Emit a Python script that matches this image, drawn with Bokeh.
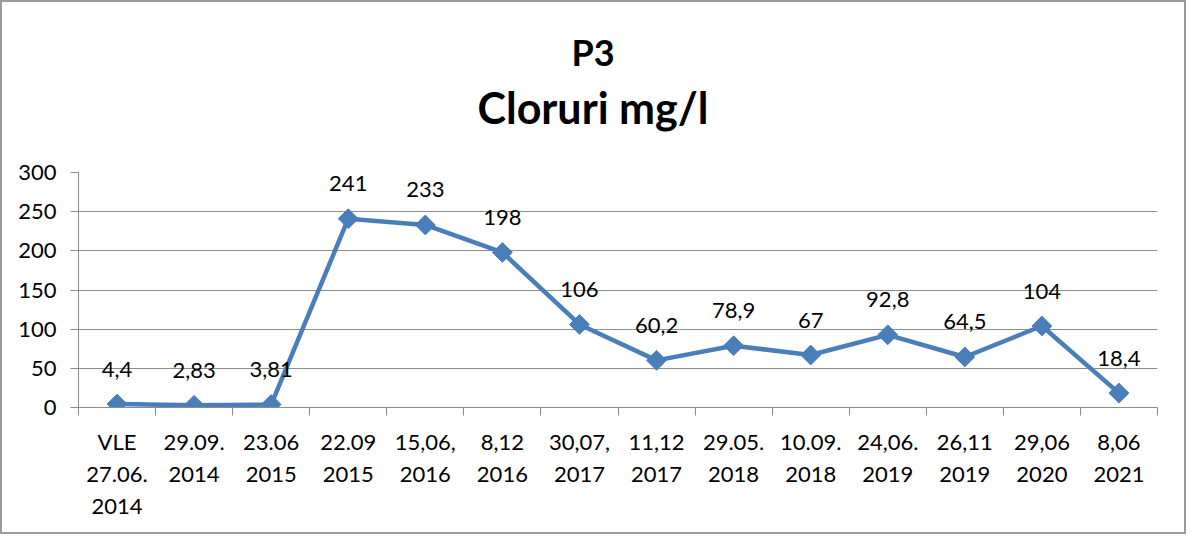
from bokeh.plotting import figure
from bokeh.models import FixedTicker, ColumnDataSource, Range1d, Div
from bokeh.layouts import column
from bokeh.core.properties import value
from bokeh.embed import file_html
from bokeh.resources import INLINE

title_lines = ["P3", "Cloruri mg/l"]
categories = ["VLE\n27.06.\n2014", "29.09.\n2014", "23.06\n2015", "22.09\n2015",
              "15,06,\n2016", "8,12\n2016", "30,07,\n2017", "11,12\n2017",
              "29.05.\n2018", "10.09.\n2018", "24,06.\n2019", "26,11\n2019",
              "29,06\n2020", "8,06\n2021"]
values = [4.4, 2.83, 3.81, 241, 233, 198, 106, 60.2, 78.9, 67, 92.8, 64.5, 104, 18.4]
value_labels = ["4,4", "2,83", "3,81", "241", "233", "198", "106", "60,2",
                "78,9", "67", "92,8", "64,5", "104", "18,4"]
y_ticks = [0, 50, 100, 150, 200, 250, 300]

n = len(categories)
xs = [i + 0.5 for i in range(n)]
src = ColumnDataSource(dict(x=xs, y=values, lab=value_labels))

FONT = "Lato"
BLUE = "#4A7EBB"
GREY = "#8c8c8c"
W = 1182

title_html = (
    f'<div style="position:relative;width:{W}px;height:150px;font-family:Lato;'
    'font-weight:bold;color:black;">'
    f'<div style="position:absolute;left:0;top:32px;width:{W}px;text-align:center;'
    f'font-size:36px;line-height:36px;">{title_lines[0]}</div>'
    f'<div style="position:absolute;left:0;top:84px;width:{W}px;text-align:center;'
    f'font-size:43px;line-height:43px;">{title_lines[1]}</div>'
    '</div>'
)
title_div = Div(text=title_html, width=W, height=150, margin=0)

p = figure(width=W, height=380, x_range=Range1d(0, n), y_range=Range1d(0, 300),
           output_backend="svg", toolbar_location=None, title=None,
           min_border_left=76, min_border_right=27, min_border_top=20,
           min_border_bottom=125, margin=0)
p.outline_line_color = None
p.background_fill_color = "white"
p.border_fill_color = "white"

# axes
p.xgrid.grid_line_color = None
p.ygrid.grid_line_color = GREY
p.ygrid.ticker = FixedTicker(ticks=y_ticks)
p.yaxis.ticker = FixedTicker(ticks=y_ticks)
p.yaxis.axis_line_color = GREY
p.yaxis.major_tick_line_color = GREY
p.yaxis.major_tick_out = 8
p.yaxis.major_tick_in = 0
p.yaxis.minor_tick_line_color = None
p.yaxis.major_label_standoff = 14
p.yaxis.major_label_text_font = FONT
p.yaxis.major_label_text_font_size = "22px"
p.yaxis.major_label_text_color = "black"

p.xaxis.ticker = FixedTicker(ticks=xs, minor_ticks=list(range(n + 1)))
p.xaxis.major_label_overrides = {x: c for x, c in zip(xs, categories)}
p.xaxis.axis_line_color = GREY
p.xaxis.major_tick_line_color = None
p.xaxis.major_tick_out = 0
p.xaxis.major_tick_in = 0
p.xaxis.minor_tick_line_color = GREY
p.xaxis.minor_tick_out = 8
p.xaxis.minor_tick_in = 0
p.xaxis.major_label_standoff = 12
p.xaxis.major_label_text_font = FONT
p.xaxis.major_label_text_font_size = "22px"
p.xaxis.major_label_text_color = "black"

p.line("x", "y", source=src, line_color=BLUE, line_width=4.5)
p.scatter("x", "y", source=src, marker="square", size=14, angle=0.785398,
          fill_color=BLUE, line_color=BLUE)
p.text("x", "y", text="lab", source=src, y_offset=-35, text_align="center",
       text_baseline="middle", text_font=value(FONT), text_font_size="22px",
       text_color="black")

layout = column(title_div, p, spacing=0,
                styles={"border": "2px solid #9a9a9a", "background": "white"})

open("out.html", "w").write(file_html(layout, INLINE))
